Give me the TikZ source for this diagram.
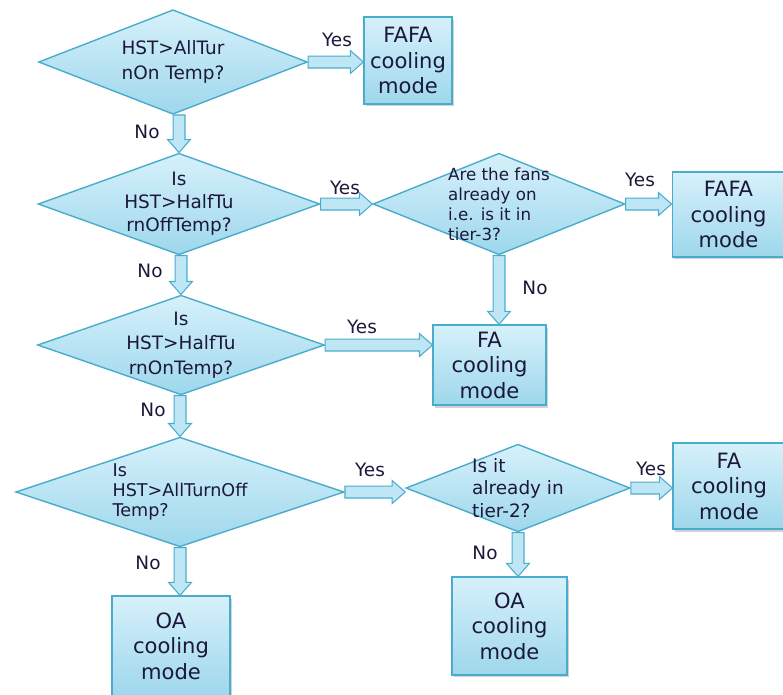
\documentclass[tikz,border=0pt]{standalone}
\usepackage{fontspec}
\setmainfont{DejaVu Sans}
\usetikzlibrary{shapes.geometric,calc,shadows}

\definecolor{flowline}{RGB}{74,172,205}
\definecolor{flowtop}{RGB}{214,241,250}
\definecolor{flowbot}{RGB}{158,215,236}
\definecolor{flowtext}{RGB}{28,24,58}
\definecolor{arrowfill}{RGB}{190,230,244}

\tikzset{
  decision/.style={shape=diamond, draw=flowline, line width=0.8pt,
    top color=flowtop, bottom color=flowbot, inner sep=0pt},
  qtext/.style={text=flowtext, align=center, font=\fontsize{10.5}{14}\selectfont},
  modebox/.style={rectangle, draw=flowline, line width=0.9pt,
    top color=flowtop, bottom color=flowbot, inner sep=0pt,
    drop shadow={opacity=0.35, shadow xshift=1.2pt, shadow yshift=-1.5pt},
    text=flowtext, align=center, font=\fontsize{12}{14.5}\selectfont},
  answer/.style={text=flowtext, inner sep=0pt, font=\fontsize{10.5}{12}\selectfont},
  barrow/.style={draw=flowline, fill=arrowfill, line width=0.6pt, line join=miter}
}

\begin{document}
\begin{tikzpicture}[x=0.02cm, y=-0.02cm]

\newcommand\blockarrow[2]{%
  \path (#2) coordinate (tip) ($(#2)!7.4pt!(#1)$) coordinate (neck);
  \filldraw[barrow] ($(#1)!3.4pt!90:(#2)$) -- ($(neck)!3.4pt!-90:(#1)$)
    -- ($(neck)!6.5pt!-90:(#1)$) -- (tip) -- ($(neck)!6.5pt!90:(#1)$)
    -- ($(neck)!3.4pt!90:(#1)$) -- ($(#1)!3.4pt!-90:(#2)$) -- cycle;}

\useasboundingbox (0,0) rectangle (783,694); %% page

%% decisions
\node[decision, minimum width=153pt, minimum height=59.5pt,
  label={[qtext]center:{HST>AllTur\\nOn Temp?}}] (d1) at (173,62) {};
\node[decision, minimum width=160.4pt, minimum height=57.8pt,
  label={[qtext, font=\fontsize{10.5}{13}\selectfont]center:{Is\\HST>HalfTu\\rnOffTemp?}}]
  (d2) at (179,204) {};
\node[decision, minimum width=143.4pt, minimum height=57.8pt,
  label={[qtext, align=left, font=\fontsize{9.5}{11.3}\selectfont]center:{Are the fans\\already on\\i.e. is it in\\tier-3?}}]
  (d3) at (499,204) {};
\node[decision, minimum width=163.3pt, minimum height=56.7pt,
  label={[qtext]center:{Is\\HST>HalfTu\\rnOnTemp?}}] (d4) at (181,345) {};
\node[decision, minimum width=187pt, minimum height=62.4pt,
  label={[qtext, align=left, font=\fontsize{10}{11.3}\selectfont]center:{Is\\HST>AllTurnOff\\Temp?}}]
  (d5) at (180,492) {};
\node[decision, minimum width=127.6pt, minimum height=49.9pt,
  label={[qtext, align=left, font=\fontsize{10.5}{13}\selectfont]center:{Is it\\already in\\tier-2?}}]
  (d6) at (518,488) {};

%% cooling modes
\node[modebox, minimum width=49.9pt, minimum height=49.3pt] (b1) at (408,60.5) {FAFA\\cooling\\mode};
\node[modebox, minimum width=64pt, minimum height=48.2pt] (b2) at (728.5,214.5) {FAFA\\cooling\\mode};
\node[modebox, minimum width=64pt, minimum height=45.4pt] (b3) at (489.5,365) {FA\\cooling\\mode};
\node[modebox, minimum width=63.5pt, minimum height=48.8pt] (b4) at (729,486) {FA\\cooling\\mode};
\node[modebox, minimum width=65.2pt, minimum height=55.6pt] (b5) at (509.5,626) {OA\\cooling\\mode};
\node[modebox, minimum width=66.9pt, minimum height=56.7pt] (b6) at (171,646) {OA\\cooling\\mode};

%% block arrows
\coordinate (a1) at (d1.east -| b1.west);
\blockarrow{d1.east}{a1}
\coordinate (a2) at (d2.north |- d1.south);
\blockarrow{a2}{d2.north}
\blockarrow{d2.east}{d3.west}
\coordinate (a4) at (d3.east -| b2.west);
\blockarrow{d3.east}{a4}
\coordinate (a5) at (d3.south |- b3.north);
\blockarrow{d3.south}{a5}
\coordinate (a6) at (d4.north |- d2.south);
\blockarrow{a6}{d4.north}
\coordinate (a7) at (d4.east -| b3.west);
\blockarrow{d4.east}{a7}
\coordinate (a8) at (d5.north |- d4.south);
\blockarrow{a8}{d5.north}
\coordinate (a9) at (d5.east -| d6.west);
\blockarrow{d5.east}{a9}
\coordinate (a10) at (d6.east -| b4.west);
\blockarrow{d6.east}{a10}
\coordinate (a11) at (d6.south |- b5.north);
\blockarrow{d6.south}{a11}
\coordinate (a12) at (d5.south |- b6.north);
\blockarrow{d5.south}{a12}

%% answers
\node[answer] (yes1) at (337,40) {Yes};
\node[answer] (no1) at (147,132) {No};
\node[answer] (yes2) at (345,188) {Yes};
\node[answer] (yes3) at (640,180) {Yes};
\node[answer] (no2) at (150,271) {No};
\node[answer] (no3) at (535,288) {No};
\node[answer] (yes4) at (362,327) {Yes};
\node[answer] (no4) at (153,410) {No};
\node[answer] (yes5) at (370,470) {Yes};
\node[answer] (yes6) at (651,469) {Yes};
\node[answer] (no5) at (485,553) {No};
\node[answer] (no6) at (148,563) {No};

\end{tikzpicture}
\end{document}
